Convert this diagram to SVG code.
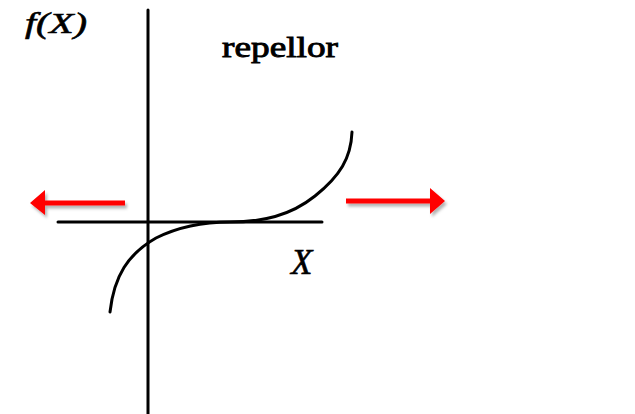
<svg xmlns="http://www.w3.org/2000/svg" width="635" height="414" viewBox="0 0 635 414">
<defs>
<style>
.ax{stroke:#000;stroke-width:3;fill:none;stroke-linecap:round}
.cv{stroke:#000;stroke-width:3;fill:none;stroke-linecap:round}
.arr{fill:#ff0000;filter:url(#sh)}
.t{font-family:"Liberation Serif","Times New Roman",serif;fill:#000}
</style>
<filter id="sh" x="-20%" y="-50%" width="140%" height="200%">
<feDropShadow dx="2" dy="3" stdDeviation="1.5" flood-color="#000" flood-opacity="0.3"/>
</filter>
</defs>
<rect width="635" height="414" fill="#fff"/>
<g id="axes">
<line class="ax" x1="148" y1="10" x2="148" y2="414"/>
<line class="ax" x1="58" y1="222" x2="322" y2="222"/>
</g>
<g id="curve">
<path class="cv" d="M110,312 C114,276 128,254 156,238 C178,227 200,222 230,222 C262,222 290,216 315,196 C340,176 351,158 352,132"/>
</g>
<g id="labels">
<text class="t" x="25" y="33" font-size="29" font-style="italic" stroke="#000" stroke-width="0.6" textLength="62" lengthAdjust="spacingAndGlyphs">f(X)</text>
<text class="t" x="222" y="57" font-size="30" stroke="#000" stroke-width="0.9" textLength="116" lengthAdjust="spacingAndGlyphs">repellor</text>
<text class="t" x="291" y="274" font-size="35" font-style="italic" stroke="#000" stroke-width="0.6">X</text>
</g>
<g id="connectors">
<path class="arr" d="M125,200.5 L45,200.5 L45,190 L30,203 L45,215 L45,205.5 L125,205.5 Z"/>
<path class="arr" d="M346,198.5 L430,198.5 L430,188 L445,201 L430,214 L430,203.5 L346,203.5 Z"/>
</g>
</svg>
